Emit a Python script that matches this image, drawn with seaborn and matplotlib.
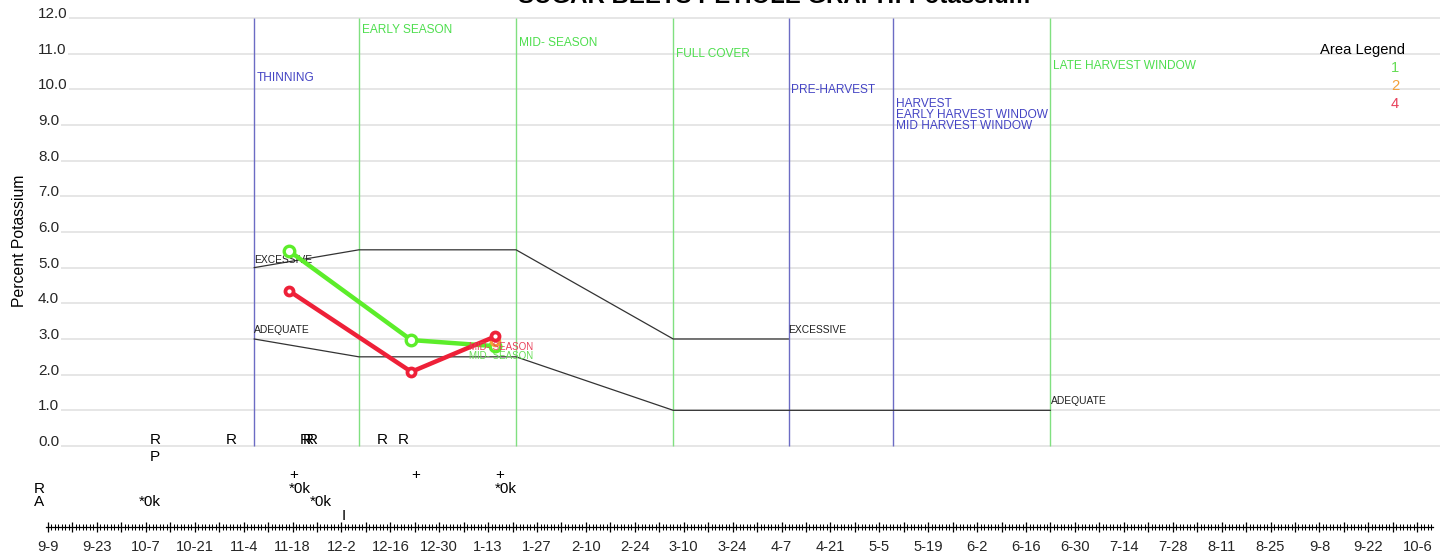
import numpy as np
import pandas as pd
import matplotlib
matplotlib.use("Agg")
import matplotlib.pyplot as plt
import seaborn as sns
from matplotlib import font_manager
from matplotlib.ticker import FixedLocator, FixedFormatter

# ------------------------------------------------------------------ data
season_start = pd.Timestamp(2022, 9, 9)
timeline_last_day = 392            # 10-6 of next year

title_text = "SUGAR BEETS PETIOLE GRAPH: Potassium"
y_label = "Percent Potassium"
y_ticks = [0, 1, 2, 3, 4, 5, 6, 7, 8, 9, 10, 11, 12]

stage_names = ["THINNING", "EARLY SEASON", "MID- SEASON", "FULL COVER", "PRE-HARVEST",
               "HARVEST\nEARLY HARVEST WINDOW\nMID HARVEST WINDOW", "LATE HARVEST WINDOW"]
stage_dates = ["11-7", "12-7", "1-21", "3-7", "4-9", "5-9", "6-23"]
stage_kinds = ["blue", "green", "green", "green", "blue", "blue", "green"]
stage_label_y = [10.32, 11.66, 11.30, 10.99, 9.98, 9.28, 10.65]

excessive_dates = ["11-7", "12-7", "1-21", "3-7", "4-9"]
excessive_values = [5.0, 5.5, 5.5, 3.0, 3.0]
adequate_dates = ["11-7", "12-7", "1-21", "3-7", "6-23"]
adequate_values = [3.0, 2.5, 2.5, 1.0, 1.0]
band_label_text = ["EXCESSIVE", "ADEQUATE", "EXCESSIVE", "ADEQUATE"]
band_label_dates = ["11-7", "11-7", "4-9", "6-23"]
band_label_y = [5.21, 3.25, 3.25, 1.26]

sample_dates = ["11-17", "12-22", "1-15"]
area_names = ["1", "2", "4"]
area1_values = [5.47, 2.97, 2.80]
area2_values = [np.nan, np.nan, 2.93]
area4_values = [4.35, 2.08, 3.07]
last_stage_label = "MID- SEASON"

event_labels = ["R", "R", "R", "R", "R", "R", "R", "P",
                "+", "+", "+",
                "*0k", "*0k", "*0k", "*0k",
                "R", "A", "I"]
event_dates = ["10-8", "10-30", "11-20", "11-21", "11-22", "12-12", "12-18", "10-8",
               "11-17", "12-22", "1-15",
               "11-17", "1-15", "11-23", "10-5",
               "9-5", "9-5", "12-2"]
event_levels = [0.17, 0.17, 0.17, 0.17, 0.17, 0.17, 0.17, -0.31,
                -0.81, -0.81, -0.81,
                -1.21, -1.21, -1.57, -1.57,
                -1.21, -1.57, -1.96]

# ------------------------------------------------------------------ helpers
def to_day(md):
    m, d = (int(v) for v in md.split("-"))
    year = 2022 if m >= 9 else 2023
    return (pd.Timestamp(year, m, d) - season_start).days


def day_label(day):
    t = season_start + pd.Timedelta(days=int(day))
    return f"{t.month}-{t.day}"


# ------------------------------------------------------------------ style
sns.set_style("white")
names = {f.name for f in font_manager.fontManager.ttflist}
base_font = "Liberation Sans" if "Liberation Sans" in names else "DejaVu Sans"
narrow_font = None
for cand in ["Liberation Sans Narrow", "Arial Narrow"]:
    if cand in names:
        narrow_font = cand
        break
plt.rcParams["font.family"] = [base_font, "DejaVu Sans"]

if narrow_font is not None:
    stage_family, stage_fs, band_fs, mid_fs, lsp = narrow_font, 10.4, 8.6, 8.4, 0.78
else:
    stage_family, stage_fs, band_fs, mid_fs, lsp = base_font, 8.6, 7.4, 7.0, 0.92

GREEN_LINE = "#80e080"
BLUE_LINE = "#6c6cc4"
GREEN_TEXT = "#4ede4e"
BLUE_TEXT = "#4444c4"
AREA_COLORS = {"1": "#5ced2a", "2": "#f3a13a", "4": "#ee2038"}
LABEL_COLORS = {"1": "#66dd55", "2": "#f3a13a", "4": "#e8405a"}

W, H = 1445, 557
fig = plt.figure(figsize=(W / 100, H / 100), dpi=100)
# axes: pixel x 38..1440, pixel y 0..527
ax = fig.add_axes([38 / W, (H - 527) / H, (1440 - 38) / W, 527 / H])

px_per_day = 3.493
x0_px = 48.0
ax.set_xlim((38 - x0_px) / px_per_day, (1440 - x0_px) / px_per_day)
px_per_unit = 35.67
ax.set_ylim(-(527 - 446) / px_per_unit, 446 / px_per_unit)

# ---- horizontal grid
ax.set_yticks(y_ticks)
ax.set_yticklabels([f"{v:.1f}" for v in y_ticks])
ax.grid(axis="y", color="#e4e4e4", linewidth=1.3)
ax.grid(axis="x", visible=False)
ax.set_axisbelow(True)
ax.tick_params(axis="y", length=0, pad=0, labelsize=11)
for lbl in ax.get_yticklabels():
    lbl.set_horizontalalignment("left")
    lbl.set_verticalalignment("baseline")
    lbl.set_bbox(dict(facecolor="white", edgecolor="none", pad=1.0))

for s in ["left", "top", "right"]:
    ax.spines[s].set_visible(False)

# ---- bottom timeline (x axis)
major_days = list(range(0, timeline_last_day + 1, 7))
minor_days = list(range(0, timeline_last_day + 5))
ax.xaxis.set_major_locator(FixedLocator(major_days))
ax.xaxis.set_major_formatter(FixedFormatter([day_label(d) if d % 14 == 0 else "" for d in major_days]))
ax.xaxis.set_minor_locator(FixedLocator(minor_days))
ax.spines["bottom"].set_bounds(-0.6, timeline_last_day + 4.5)
ax.spines["bottom"].set_linewidth(0.9)
ax.spines["bottom"].set_color("black")
ax.tick_params(axis="x", which="major", direction="inout", length=6.5, width=0.9,
               color="black", labelsize=10.6, pad=5.8, bottom=True)
ax.tick_params(axis="x", which="minor", direction="inout", length=3.8, width=0.75,
               color="black", bottom=True)

# ---- stage lines and labels
stage_days = [to_day(d) for d in stage_dates]
for name, day, kind, ly in zip(stage_names, stage_days, stage_kinds, stage_label_y):
    ax.vlines(day, 0, 12, colors=GREEN_LINE if kind == "green" else BLUE_LINE, linewidth=1.0, zorder=1)
    ax.annotate(name, xy=(day, ly), xytext=(2.0, 0), textcoords="offset points",
                ha="left", va="center", fontsize=stage_fs, family=stage_family,
                color=GREEN_TEXT if kind == "green" else BLUE_TEXT, linespacing=lsp)

# ---- adequacy bands
sns.lineplot(x=[to_day(d) for d in excessive_dates], y=excessive_values, ax=ax,
             color="#333333", linewidth=0.9, sort=False, zorder=2)
sns.lineplot(x=[to_day(d) for d in adequate_dates], y=adequate_values, ax=ax,
             color="#333333", linewidth=0.9, sort=False, zorder=2)
for txt, d, y in zip(band_label_text, band_label_dates, band_label_y):
    ax.text(to_day(d), y, txt, ha="left", va="center", fontsize=band_fs,
            family=stage_family, color="#222222", zorder=3)

# ---- sample series
sample_days = [to_day(d) for d in sample_dates]
series = {"1": area1_values, "2": area2_values, "4": area4_values}
marker_style = {"1": dict(markersize=7.6, markeredgewidth=2.4),
                "2": dict(markersize=6.0, markeredgewidth=2.3),
                "4": dict(markersize=5.8, markeredgewidth=2.7)}
for name in area_names:
    df = pd.DataFrame({"day": sample_days, "value": series[name]}).dropna()
    sns.lineplot(data=df, x="day", y="value", ax=ax, color=AREA_COLORS[name],
                 linewidth=3.2, marker="o", markerfacecolor="white",
                 markeredgecolor=AREA_COLORS[name], sort=False, zorder=5,
                 **marker_style[name])

# labels of last sample stage
ax.annotate(last_stage_label, xy=(sample_days[-1], 2.78), xytext=(4.5, 0), textcoords="offset points",
            ha="center", va="center", fontsize=mid_fs, family=stage_family,
            color=LABEL_COLORS["4"], zorder=6)
ax.annotate(last_stage_label, xy=(sample_days[-1], 2.52), xytext=(4.5, 0), textcoords="offset points",
            ha="center", va="center", fontsize=mid_fs, family=stage_family,
            color=LABEL_COLORS["1"], zorder=4)

# ---- event annotations below the chart
for lab, d, lev in zip(event_labels, event_dates, event_levels):
    ax.text(to_day(d), lev, lab, ha="left", va="center", fontsize=11, color="black", zorder=4)

ax.set_xlabel("")
ax.set_ylabel("")
ax.text((20 - 38) / (1440 - 38), (527 - 241) / 527, y_label, transform=ax.transAxes,
        rotation=90, ha="center", va="center", fontsize=11.3, color="black")

# ---- area legend
legend_x_day = (1405 - x0_px) / px_per_day
ax.text(legend_x_day, 11.10, "Area Legend", ha="right", va="center", fontsize=10.6, color="black")
for name, y in zip(area_names, [10.60, 10.09, 9.59]):
    ax.text(legend_x_day - 1.7, y, name, ha="right", va="center", fontsize=10.6,
            color=LABEL_COLORS[name])

# ---- title (clipped at top edge like the reference)
fig.text(774 / W, 1 - 3.0 / H, title_text, ha="center", va="baseline",
         fontsize=17.3, fontweight="bold", color="black")

fig.savefig("out.png", dpi=100)
